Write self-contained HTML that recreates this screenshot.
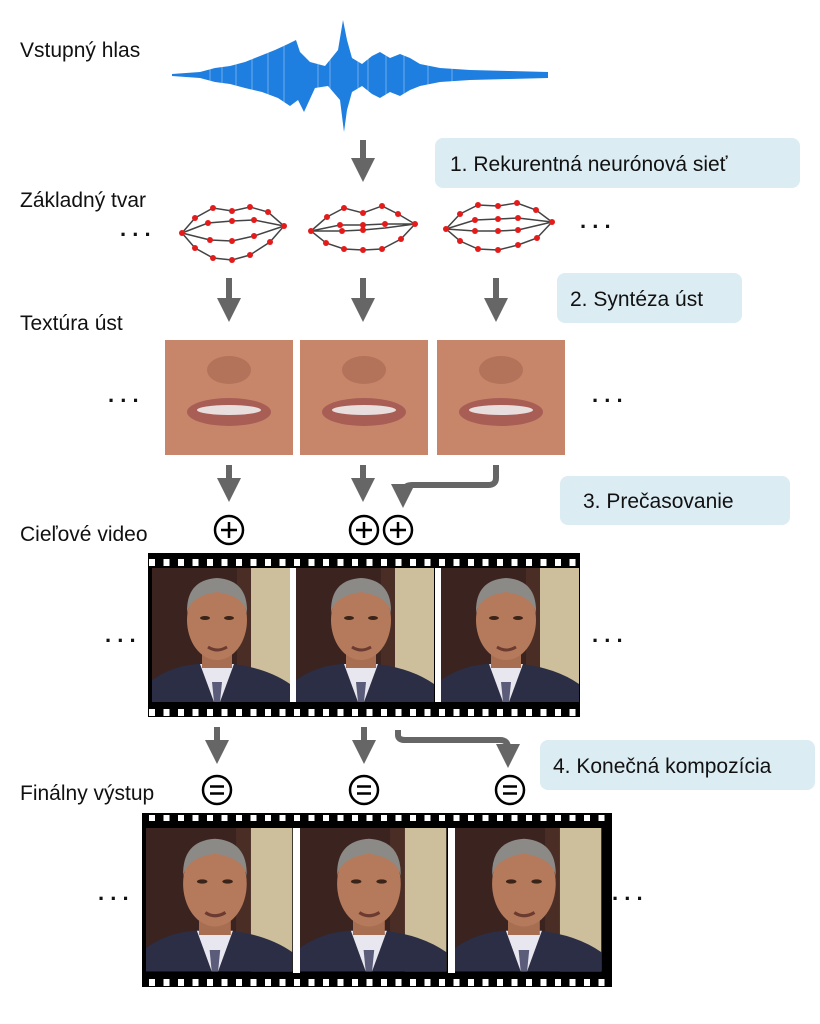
<!DOCTYPE html>
<html><head><meta charset="utf-8"><style>
body{margin:0;background:#fff;width:820px;height:1024px;overflow:hidden}
svg{display:block}
text{font-family:"Liberation Sans",sans-serif}
</style></head><body>
<svg width="820" height="1024" viewBox="0 0 820 1024" xmlns="http://www.w3.org/2000/svg">
<defs>
<marker id="ah" markerWidth="4" markerHeight="4" refX="2" refY="2" orient="auto" markerUnits="strokeWidth">
<path d="M0,0 L4,2 L0,4 z" fill="#666"/></marker>
<g id="face">
<rect x="0" y="0" width="138" height="134" fill="#3b2320"/>
<rect x="98" y="0" width="40" height="134" fill="#cdbf9c"/>
<rect x="85" y="0" width="14" height="134" fill="#4a2e26"/>
<path d="M0,134 L0,112 Q20,98 45,96 L80,96 Q115,100 138,116 L138,134z" fill="#2b2e44"/>
<path d="M48,96 L62,134 L68,134 L82,96z" fill="#e8e6ee"/>
<path d="M60,114 L70,114 L68,134 L62,134z" fill="#5b5b7a"/>
<rect x="50" y="70" width="30" height="30" fill="#a86e52"/>
<ellipse cx="65" cy="52" rx="30" ry="40" fill="#b57a5b"/>
<path d="M35,45 Q34,12 65,10 Q96,12 95,45 Q92,28 65,24 Q38,28 35,45z" fill="#8c8a86"/>
<ellipse cx="53" cy="50" rx="5" ry="2" fill="#3a2318"/>
<ellipse cx="77" cy="50" rx="5" ry="2" fill="#3a2318"/>
<path d="M56,79 Q65,85 75,79" stroke="#6b3a30" stroke-width="3" fill="none"/>
</g>
<g id="mouth">
<rect x="0" y="0" width="128" height="115" fill="#c7866a"/>
<ellipse cx="64" cy="30" rx="22" ry="14" fill="#b3725a"/>
<ellipse cx="64" cy="72" rx="42" ry="14" fill="#a85e55"/>
<ellipse cx="64" cy="70" rx="32" ry="5" fill="#e8dede"/>
</g>
<g id="plus"><circle r="14" fill="#fff" stroke="#000" stroke-width="2.5"/><path d="M-8,0H8M0,-8V8" stroke="#000" stroke-width="2.5"/></g>
<g id="eq"><circle r="14" fill="#fff" stroke="#000" stroke-width="2.5"/><path d="M-7,-3.5H7M-7,3.5H7" stroke="#000" stroke-width="2.5"/></g>
<pattern id="spr" x="0" y="0" width="14.5" height="15" patternUnits="userSpaceOnUse"><rect width="14.5" height="15" fill="#000"/><rect x="4" y="4" width="6" height="7" fill="#fff"/></pattern>
</defs>

<g font-size="21" fill="#111">
<text x="20" y="57">Vstupný hlas</text>
<text x="20" y="207">Základný tvar</text>
<text x="20" y="330">Textúra úst</text>
<text x="20" y="541">Cieľové video</text>
<text x="20" y="800">Finálny výstup</text>
</g>

<!-- waveform -->
<path fill="#1f7fe0" d="M172,74 L200,72 L215,68 L230,66 L245,62 L260,56 L275,50 L288,44 L296,40 L300,52 L310,62 L325,66 L338,50 L343,20 L347,40 L352,58 L362,64 L372,56 L380,52 L390,58 L400,54 L410,58 L420,64 L440,68 L470,70 L510,71 L548,72 L548,78 L510,79 L470,80 L440,82 L420,86 L410,90 L400,96 L390,92 L380,98 L372,94 L362,86 L352,92 L347,110 L344,132 L340,100 L328,86 L315,88 L304,112 L298,100 L290,106 L278,98 L262,92 L245,88 L230,84 L215,82 L200,78 L172,76 Z"/>
<g stroke="#fff" stroke-width="1" opacity="0.35">
<path d="M210,60V90M222,60V90M236,55V95M252,50V100M268,45V105M284,40V110M318,55V95M330,55V95M358,50V100M368,50V100M386,45V105M404,45V105M428,60V90M452,60V90"/>
</g>

<!-- label boxes -->
<g fill="#dcecf3">
<rect x="435" y="138" width="365" height="50" rx="8"/>
<rect x="557" y="273" width="185" height="50" rx="8"/>
<rect x="560" y="476" width="230" height="49" rx="8"/>
<rect x="540" y="740" width="275" height="50" rx="8"/>
</g>
<g font-size="21" fill="#111">
<text x="450" y="171">1. Rekurentná neurónová sieť</text>
<text x="570" y="306">2. Syntéza úst</text>
<text x="583" y="508">3. Prečasovanie</text>
<text x="553" y="773">4. Konečná kompozícia</text>
</g>

<!-- arrows -->
<g stroke="#666" stroke-width="6" fill="none" marker-end="url(#ah)">
<path d="M363,140 V170"/>
<path d="M229,278 V310"/><path d="M363,278 V310"/><path d="M496,278 V310"/>
<path d="M229,465 V490"/><path d="M363,465 V490"/>
<path d="M496,465 V478 Q496,485 488,485 L412,485 Q403,485 403,494 L403,496"/>
<path d="M217,727 V752"/><path d="M364,727 V752"/>
<path d="M398,730 V735 Q398,740 405,740 L500,740 Q508,740 508,748 L508,756"/>
</g>

<!-- meshes -->
<g stroke="#444" stroke-width="1.5" fill="none">
<path d="M182,233 L195,218 L213,208 L232,211 L250,207 L268,212 L284,226 L270,242 L250,255 L232,260 L213,258 L195,248 Z"/>
<path d="M182,233 L208,223 L232,221 L254,220 L284,226 M182,233 L210,240 L232,241 L254,236 L284,226"/>
<path d="M311,231 L327,217 L344,208 L363,213 L382,206 L398,214 L415,224 L401,239 L382,249 L363,250 L344,249 L326,243 Z"/>
<path d="M311,231 L340,225 L363,225 L385,224 L415,224 M311,231 L342,231 L363,230 L385,228 L415,224"/>
<path d="M446,229 L460,214 L478,205 L498,206 L517,203 L536,210 L552,222 L537,238 L518,245 L498,250 L478,249 L460,241 Z"/>
<path d="M446,229 L475,220 L498,219 L518,218 L552,222 M446,229 L475,231 L498,231 L518,230 L552,222"/>
</g>
<g fill="#e41b1b">
<circle cx="182" cy="233" r="3"/><circle cx="195" cy="218" r="3"/><circle cx="213" cy="208" r="3"/><circle cx="232" cy="211" r="3"/><circle cx="250" cy="207" r="3"/><circle cx="268" cy="212" r="3"/><circle cx="284" cy="226" r="3"/><circle cx="270" cy="242" r="3"/><circle cx="250" cy="255" r="3"/><circle cx="232" cy="260" r="3"/><circle cx="213" cy="258" r="3"/><circle cx="195" cy="248" r="3"/><circle cx="208" cy="223" r="3"/><circle cx="232" cy="221" r="3"/><circle cx="254" cy="220" r="3"/><circle cx="210" cy="240" r="3"/><circle cx="232" cy="241" r="3"/><circle cx="254" cy="236" r="3"/>
<circle cx="311" cy="231" r="3"/><circle cx="327" cy="217" r="3"/><circle cx="344" cy="208" r="3"/><circle cx="363" cy="213" r="3"/><circle cx="382" cy="206" r="3"/><circle cx="398" cy="214" r="3"/><circle cx="415" cy="224" r="3"/><circle cx="401" cy="239" r="3"/><circle cx="382" cy="249" r="3"/><circle cx="363" cy="250" r="3"/><circle cx="344" cy="249" r="3"/><circle cx="326" cy="243" r="3"/><circle cx="340" cy="225" r="3"/><circle cx="363" cy="225" r="3"/><circle cx="385" cy="224" r="3"/><circle cx="342" cy="231" r="3"/><circle cx="363" cy="230" r="3"/>
<circle cx="446" cy="229" r="3"/><circle cx="460" cy="214" r="3"/><circle cx="478" cy="205" r="3"/><circle cx="498" cy="206" r="3"/><circle cx="517" cy="203" r="3"/><circle cx="536" cy="210" r="3"/><circle cx="552" cy="222" r="3"/><circle cx="537" cy="238" r="3"/><circle cx="518" cy="245" r="3"/><circle cx="498" cy="250" r="3"/><circle cx="478" cy="249" r="3"/><circle cx="460" cy="241" r="3"/><circle cx="475" cy="220" r="3"/><circle cx="498" cy="219" r="3"/><circle cx="518" cy="218" r="3"/><circle cx="475" cy="231" r="3"/><circle cx="498" cy="231" r="3"/><circle cx="518" cy="230" r="3"/>
</g>

<!-- dots -->
<g font-size="22" fill="#111" font-weight="bold">
<text x="120" y="236">. . .</text><text x="580" y="228">. . .</text>
<text x="108" y="402">. . .</text><text x="592" y="402">. . .</text>
<text x="105" y="642">. . .</text><text x="592" y="642">. . .</text>
<text x="98" y="900">. . .</text><text x="612" y="900">. . .</text>
</g>

<!-- mouths -->
<use href="#mouth" x="165" y="340"/>
<use href="#mouth" x="300" y="340"/>
<use href="#mouth" x="437" y="340"/>

<use href="#plus" x="229" y="530"/><use href="#plus" x="364" y="530"/><use href="#plus" x="398" y="530"/>

<!-- film 1 -->
<rect x="148" y="553" width="432" height="164" fill="#000"/>
<rect x="148" y="555" width="432" height="13" fill="url(#spr)"/>
<rect x="148" y="703" width="432" height="13" fill="url(#spr)"/>
<use href="#face" x="152" y="568"/><use href="#face" x="296" y="568"/><use href="#face" x="441" y="568"/>
<rect x="290" y="568" width="6" height="134" fill="#fff"/><rect x="435" y="568" width="6" height="134" fill="#fff"/>

<use href="#eq" x="217" y="790"/><use href="#eq" x="364" y="790"/><use href="#eq" x="510" y="790"/>

<!-- film 2 -->
<rect x="142" y="813" width="470" height="174" fill="#000"/>
<rect x="142" y="815" width="470" height="13" fill="url(#spr)"/>
<rect x="142" y="973" width="470" height="13" fill="url(#spr)"/>
<g transform="translate(146,828) scale(1.06,1.07)"><use href="#face"/></g>
<g transform="translate(300,828) scale(1.06,1.07)"><use href="#face"/></g>
<g transform="translate(455,828) scale(1.06,1.07)"><use href="#face"/></g>
<rect x="293" y="828" width="7" height="145" fill="#fff"/><rect x="448" y="828" width="7" height="145" fill="#fff"/>
</svg>
</body></html>
